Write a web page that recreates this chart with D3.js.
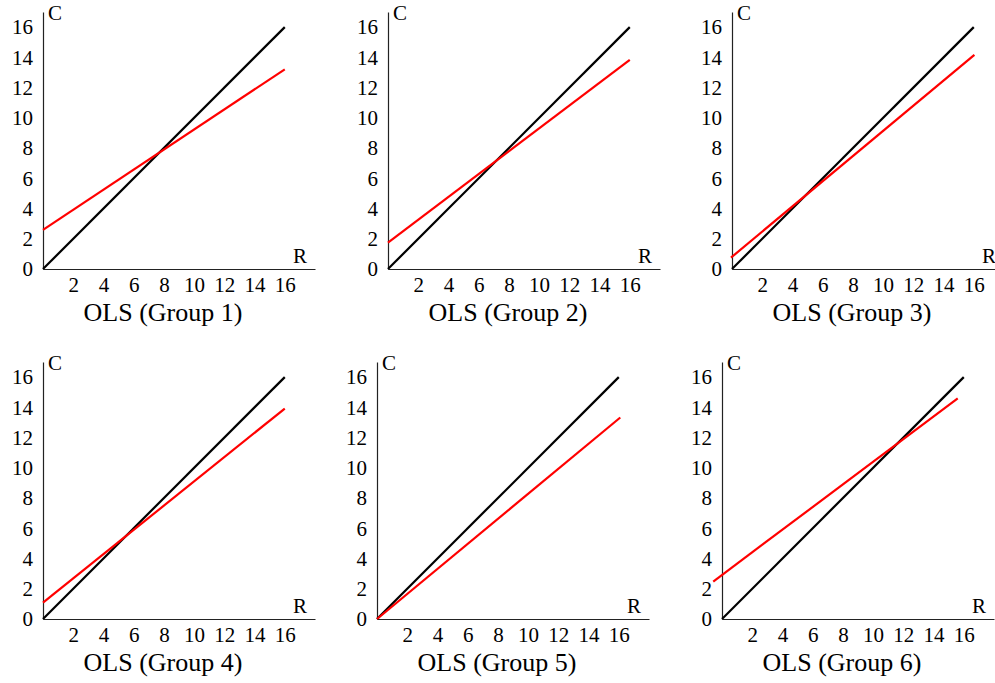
<!DOCTYPE html>
<html lang="en">
<head>
  <meta charset="UTF-8">
  <title>OLS fits by group</title>
  <style>
  body {
    margin: 0;
    background: #fff;
  }
  svg text {
    font-family: "Liberation Serif", "Times New Roman", serif;
    fill: #000;
  }
  .tick text {
    font-size: 21px;
  }
  .axis path {
    stroke: #222;
    stroke-width: 1.2px;
  }
  .lbl {
    font-size: 21px;
  }
  .title {
    font-size: 26px;
    text-anchor: middle;
  }
  </style>
</head>
<body>
  <svg width="995" height="683"></svg>
  <script src="https://cdnjs.cloudflare.com/ajax/libs/d3/7.8.5/d3.min.js"></script>
  <script>
  // data: OLS fitted line of C on R, as start and end points
  var groups = ["Group 1", "Group 2", "Group 3", "Group 4", "Group 5", "Group 6"];
  var olsStartR = [0, 0, -0.07, 0, 0, -0.58];
  var olsStartC = [2.59, 1.75, 0.75, 1.08, 0, 2.48];
  var olsEndR = [16, 16, 16.04, 16, 16.1, 15.6];
  var olsEndC = [13.21, 13.83, 14.16, 13.92, 13.33, 14.59];
  // 45 degree reference line C = R
  var refR = [0, 16];
  var xTicks = [2, 4, 6, 8, 10, 12, 14, 16];
  var yTicks = [0, 2, 4, 6, 8, 10, 12, 14, 16];

  // layout: left edge of each panel's y axis and the y of its x axis
  var panelLeft = [43, 388, 732, 43, 377, 722];
  var panelBase = [269, 269, 269, 619, 619, 619];
  var w = 272, h = 257;

  var svg = d3.select("svg");
  var x = d3.scaleLinear().domain([0, 18]).range([0, w]);
  var y = d3.scaleLinear().domain([0, 17]).range([h, 0]);
  var line = d3.line()
      .x(function(d) { return x(d[0]); })
      .y(function(d) { return y(d[1]); });

  groups.forEach(function(name, i) {
    var g = svg.append("g")
        .attr("transform", "translate(" + panelLeft[i] + "," + (panelBase[i] - h) + ")");

    g.append("g")
        .attr("class", "axis")
        .attr("transform", "translate(0," + h + ")")
        .call(d3.axisBottom(x).tickValues(xTicks).tickSize(0).tickSizeOuter(0).tickPadding(8))
        .attr("font-family", null).attr("font-size", null);

    g.append("g")
        .attr("class", "axis")
        .call(d3.axisLeft(y).tickValues(yTicks).tickSize(0).tickSizeOuter(0).tickPadding(10))
        .attr("font-family", null).attr("font-size", null);

    g.append("path")
        .datum(refR.map(function(r) { return [r, r]; }))
        .attr("d", line)
        .attr("fill", "none")
        .attr("stroke", "#000")
        .attr("stroke-width", 2.2);

    g.append("path")
        .datum([[olsStartR[i], olsStartC[i]], [olsEndR[i], olsEndC[i]]])
        .attr("d", line)
        .attr("fill", "none")
        .attr("stroke", "#ff0000")
        .attr("stroke-width", 2.2);

    g.append("text").attr("class", "lbl")
        .attr("x", 5).attr("y", 8)
        .text("C");
    g.append("text").attr("class", "lbl")
        .attr("x", w - 8).attr("y", h - 6)
        .attr("text-anchor", "end")
        .text("R");

    g.append("text").attr("class", "title")
        .attr("x", 120).attr("y", h + 52)
        .text("OLS (" + name + ")");
  });
  </script>
</body>
</html>
